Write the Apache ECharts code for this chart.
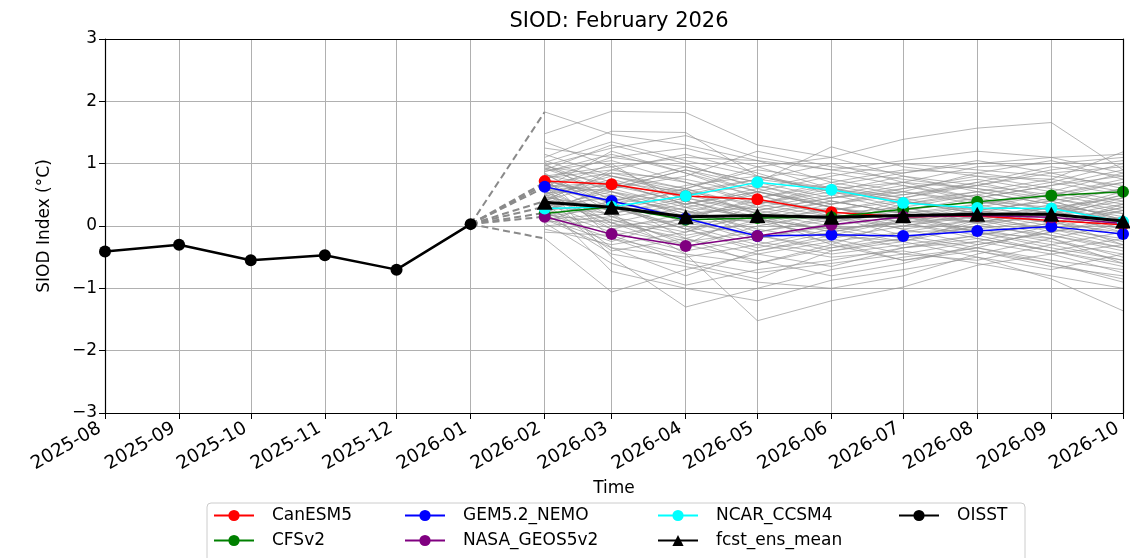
<!DOCTYPE html>
<html>
<head>
<meta charset="utf-8">
<title>SIOD: February 2026</title>
<script src="https://cdn.jsdelivr.net/npm/echarts@6/dist/echarts.min.js"></script>
<style>
    html, body {margin: 0; padding: 0; background: #fff;}
    #main {width: 1130px; height: 558px;}
</style>
</head>
<body>
<div id="main"></div>
<script>
// month ticks on the time axis
const TICK_MONTHS = ['2025-08', '2025-09', '2025-10', '2025-11', '2025-12', '2026-01', '2026-02',
    '2026-03', '2026-04', '2026-05', '2026-06', '2026-07', '2026-08', '2026-09', '2026-10'];
const OBS_MONTHS = ['2025-08', '2025-09', '2025-10', '2025-11', '2025-12', '2026-01'];
const FCST_MONTHS = ['2026-02', '2026-03', '2026-04', '2026-05', '2026-06', '2026-07', '2026-08', '2026-09', '2026-10'];
const Y_TICKS = [-3, -2, -1, 0, 1, 2, 3];

// observed index
const OISST = [-0.41, -0.30, -0.55, -0.47, -0.70, 0.03];

// model means
const CANESM5 = [0.72, 0.67, 0.48, 0.43, 0.22, 0.15, 0.16, 0.09, 0.02];
const CFSV2 = [0.20, 0.31, 0.10, 0.13, 0.14, 0.27, 0.39, 0.49, 0.55];
const GEM52_NEMO = [0.63, 0.40, 0.12, -0.16, -0.14, -0.16, -0.08, -0.01, -0.13];
const NASA_GEOS5V2 = [0.15, -0.13, -0.32, -0.16, 0.02, 0.15, 0.17, 0.14, 0.04];
const NCAR_CCSM4 = [0.28, 0.31, 0.48, 0.70, 0.58, 0.37, 0.29, 0.28, 0.07];
const ENS_MEAN = [0.38, 0.30, 0.15, 0.17, 0.14, 0.17, 0.19, 0.19, 0.08];

// dashed links from last observation to first forecast month
const LINK_ENDS = [1.83, 0.70, 0.66, 0.62, 0.40, 0.31, 0.21, 0.15, -0.20];

// ensemble members, Feb..Oct 2026
const MEMBERS = [
    [1.83, 1.47, 1.30, 1.05, 0.90, 1.05, 1.20, 1.10, 0.85],
    [1.48, 1.84, 1.82, 1.30, 1.10, 1.39, 1.57, 1.66, 0.90],
    [1.25, 1.10, 0.95, 0.70, 1.27, 0.95, 0.80, 0.75, 1.19],
    [1.10, 1.52, 1.50, 0.80, 0.60, 0.70, 0.95, 1.00, 1.10],
    [1.00, 0.40, -0.20, -0.60, -0.30, 0.10, 0.35, 0.50, 0.70],
    [0.95, 0.80, 0.60, 0.90, 0.75, 0.55, 0.40, 0.30, 0.20],
    [0.90, 1.30, 1.00, 0.60, 0.30, 0.10, -0.10, -0.30, -0.55],
    [0.85, 0.20, -0.45, -1.52, -1.20, -0.98, -0.63, -0.45, -0.30],
    [0.82, 0.60, 0.80, 1.20, 0.95, 0.85, 1.00, 1.10, 1.15],
    [0.80, 0.95, 0.40, 0.10, 0.35, 0.60, 0.75, 0.55, 0.35],
    [0.78, -0.20, -0.60, -0.85, -0.40, -0.20, 0.00, -0.15, -0.40],
    [0.75, 1.10, 1.25, 0.95, 0.60, 0.35, 0.50, 0.70, 1.00],
    [0.72, 0.50, 0.20, 0.30, 0.50, 0.70, 0.60, 0.40, 0.10],
    [0.70, 0.30, 0.00, -0.30, -0.50, -0.40, -0.60, -0.80, -1.00],
    [0.68, 0.85, 0.75, 0.50, 0.20, 0.00, 0.15, 0.30, 0.45],
    [0.65, -0.50, -1.30, -1.00, -0.70, -0.50, -0.35, -0.55, -0.70],
    [0.63, 0.70, 0.55, 0.35, 0.15, 0.25, 0.45, 0.65, 0.80],
    [0.60, 0.40, 0.65, 0.80, 0.55, 0.30, 0.10, -0.05, -0.20],
    [0.58, 1.00, 0.30, -0.10, 0.10, 0.40, 0.20, 0.00, -0.25],
    [0.55, 0.15, -0.30, -0.55, -0.80, -0.60, -0.30, -0.10, 0.10],
    [0.53, 0.60, 0.90, 0.55, 0.30, 0.05, -0.20, -0.40, -0.60],
    [0.50, 0.00, 0.10, 0.45, 0.70, 0.90, 0.85, 0.70, 0.50],
    [0.48, 0.75, 0.45, 0.20, 0.00, -0.20, -0.40, -0.60, -0.85],
    [0.45, -0.35, -0.80, -0.40, -0.15, 0.10, 0.25, 0.15, -0.05],
    [0.43, 0.25, 0.50, 0.65, 0.40, 0.20, 0.30, 0.50, 0.75],
    [0.40, 0.90, 0.70, 0.40, 0.25, 0.45, 0.65, 0.90, 1.05],
    [0.38, 0.10, -0.15, 0.05, 0.30, 0.15, -0.05, -0.25, -0.45],
    [0.35, -0.73, -1.00, -1.20, -0.87, -0.70, -0.50, -0.85, -1.36],
    [0.33, 0.45, 0.25, -0.05, -0.25, -0.10, 0.10, 0.35, 0.60],
    [0.30, 0.55, 0.35, 0.60, 0.85, 0.65, 0.45, 0.25, 0.00],
    [0.28, -0.10, -0.40, -0.20, 0.05, 0.25, 0.40, 0.20, -0.10],
    [0.25, 0.35, 0.10, -0.25, -0.45, -0.30, -0.15, 0.05, 0.30],
    [0.22, 0.65, 0.95, 0.70, 0.45, 0.60, 0.80, 0.60, 0.40],
    [0.20, -0.45, -0.65, -0.90, -1.00, -0.80, -0.45, -0.20, -0.50],
    [0.18, 0.05, 0.30, 0.15, -0.10, -0.35, -0.25, -0.45, -0.75],
    [0.15, 0.30, -0.05, -0.40, -0.20, 0.00, 0.20, 0.45, 0.20],
    [0.12, -0.25, 0.15, 0.40, 0.20, -0.05, -0.30, -0.10, 0.15],
    [0.10, 0.20, 0.45, 0.25, 0.05, 0.35, 0.55, 0.35, 0.00],
    [0.05, -0.60, -0.95, -0.70, -0.55, -0.35, -0.20, -0.40, -0.20],
    [0.00, 0.10, -0.25, -0.10, 0.15, -0.15, -0.35, -0.60, -0.90],
    [-0.05, -0.30, -0.10, 0.20, 0.40, 0.20, 0.05, 0.25, 0.55],
    [-0.10, -0.15, -0.55, -0.75, -0.60, -0.45, -0.55, -0.30, -0.10],
    [-0.20, -1.06, -0.70, -0.45, -0.25, -0.55, -0.40, -0.65, -0.80],
    [0.92, 0.55, 0.15, -0.20, 0.00, 0.15, 0.05, 0.15, 0.35],
    [0.87, 1.15, 0.85, 0.55, 0.80, 1.00, 0.90, 0.80, 0.65],
    [1.35, 0.95, 1.10, 1.05, 0.70, 0.50, 0.65, 0.85, 0.95],
    [0.74, 0.45, 0.05, 0.10, -0.05, 0.05, 0.15, -0.05, -0.30],
    [0.62, 0.05, -0.35, 0.00, 0.20, 0.30, 0.05, -0.20, -0.60],
    [0.57, 0.65, 0.40, 0.15, -0.30, -0.55, -0.35, -0.05, 0.25],
    [0.47, 0.25, 0.60, 0.95, 1.10, 0.80, 0.55, 0.35, 0.15],
    [0.37, -0.05, -0.30, 0.25, 0.45, 0.55, 0.35, 0.10, -0.15],
    [0.27, 0.50, 0.20, 0.05, -0.15, -0.25, 0.00, 0.20, 0.40],
    [0.17, -0.20, -0.45, -0.60, -0.35, -0.10, -0.05, 0.10, -0.30],
    [0.08, 0.40, 0.60, 0.30, 0.10, 0.20, 0.35, 0.55, 0.85],
    [1.05, 0.70, 0.35, 0.55, 0.30, 0.10, 0.25, 0.40, 0.10],
    [0.97, 1.25, 1.45, 1.10, 0.90, 0.75, 0.60, 0.45, 0.70],
    [0.93, 0.65, 0.50, 0.75, 0.60, 0.45, 0.70, 0.95, 0.80],
    [0.88, 1.05, 0.70, 0.35, 0.55, 0.80, 0.65, 0.50, 0.30],
    [0.83, 0.35, 0.55, 0.20, -0.10, 0.10, 0.30, 0.15, 0.45],
    [0.77, 0.90, 1.15, 0.85, 0.50, 0.25, 0.05, 0.25, 0.50],
    [0.71, 0.15, -0.10, 0.35, 0.65, 0.45, 0.20, -0.10, -0.35],
    [0.66, 0.55, 0.25, -0.15, -0.35, -0.20, 0.05, 0.30, 0.05],
    [0.61, 1.20, 0.85, 0.45, 0.65, 0.85, 1.05, 0.85, 0.60],
    [0.56, -0.05, 0.20, 0.55, 0.35, 0.50, 0.70, 0.45, 0.25],
    [0.51, 0.80, 0.55, 0.75, 1.00, 0.70, 0.45, 0.65, 0.90],
    [0.46, 0.30, -0.05, -0.35, -0.10, 0.15, -0.10, -0.35, -0.55],
    [0.41, 0.70, 0.35, 0.10, -0.20, -0.45, -0.25, 0.00, 0.35],
    [0.36, -0.40, -0.20, 0.10, -0.05, -0.25, -0.50, -0.70, -0.45],
    [0.31, 0.20, 0.40, 0.10, 0.25, 0.40, 0.20, 0.05, 0.25],
    [0.26, 0.60, 0.30, 0.50, 0.15, -0.05, 0.10, -0.15, -0.35],
    [0.21, -0.15, 0.05, -0.15, -0.40, -0.25, 0.10, 0.30, 0.10],
    [0.16, 0.40, 0.15, 0.35, 0.60, 0.40, 0.25, 0.05, -0.10],
    [0.11, -0.35, -0.50, -0.30, -0.05, 0.05, -0.15, 0.05, 0.30],
    [0.06, 0.15, 0.35, 0.55, 0.30, 0.05, 0.25, 0.40, 0.60],
    [1.15, 0.80, 0.50, 0.25, 0.45, 0.65, 0.40, 0.20, 0.50],
    [1.02, 1.35, 1.05, 0.80, 0.55, 0.40, 0.55, 0.75, 0.55],
    [0.98, 0.60, 0.90, 0.65, 0.35, 0.55, 0.85, 1.05, 0.75],
    [0.76, 0.35, -0.05, 0.15, 0.40, 0.20, -0.10, -0.20, 0.05],
    [0.52, 0.05, -0.20, -0.45, -0.65, -0.35, -0.15, -0.40, -0.65],
    [0.42, 0.85, 0.60, 0.20, 0.10, 0.30, 0.50, 0.25, -0.05]
];

const FONT = 'DejaVu Sans';

const toTime = (ym) => {
    const [y, m] = ym.split('-').map(Number);
    return Date.UTC(y, m - 1, 1);
};
const fmtMonth = (t) => {
    const d = new Date(t);
    return d.getUTCFullYear() + '-' + String(d.getUTCMonth() + 1).padStart(2, '0');
};
const pairs = (months, vals) => months.map((m, i) => [toTime(m), vals[i]]);

const tickTimes = TICK_MONTHS.map(toTime);

const series = [];

MEMBERS.forEach((m, i) => {
    series.push({
        name: 'member' + i,
        type: 'line',
        data: pairs(FCST_MONTHS, m),
        symbol: 'none',
        silent: true,
        z: 1,
        lineStyle: {color: '#939393', width: 0.8, opacity: 0.85}
    });
});

LINK_ENDS.forEach((v, i) => {
    series.push({
        name: 'link' + i,
        type: 'line',
        data: [[toTime('2026-01'), OISST[OISST.length - 1]], [toTime('2026-02'), v]],
        symbol: 'none',
        silent: true,
        z: 2,
        lineStyle: {color: '#8a8a8a', width: 2, type: [7, 4]}
    });
});

const model = (name, vals, color) => ({
    name: name,
    type: 'line',
    data: pairs(FCST_MONTHS, vals),
    symbol: 'circle',
    symbolSize: 12,
    z: 3,
    itemStyle: {color: color},
    lineStyle: {color: color, width: 1.5}
});

series.push(model('CanESM5', CANESM5, '#ff0000'));
series.push(model('CFSv2', CFSV2, '#008000'));
series.push(model('GEM5.2_NEMO', GEM52_NEMO, '#0000ff'));
series.push(model('NASA_GEOS5v2', NASA_GEOS5V2, '#800080'));
series.push(model('NCAR_CCSM4', NCAR_CCSM4, '#00ffff'));
series.push({
    name: 'fcst_ens_mean',
    type: 'line',
    data: pairs(FCST_MONTHS, ENS_MEAN),
    symbol: 'triangle',
    symbolSize: [16, 15],
    z: 4,
    itemStyle: {color: '#000'},
    lineStyle: {color: '#000', width: 3}
});
series.push({
    name: 'OISST',
    type: 'line',
    data: pairs(OBS_MONTHS, OISST),
    symbol: 'circle',
    symbolSize: 12,
    z: 4,
    itemStyle: {color: '#000'},
    lineStyle: {color: '#000', width: 2.5}
});

// one legend per entry so the 4x2 column-major layout sits where matplotlib put it
const legendItem = (name, left, top) => ({
    left: left,
    top: top,
    padding: 0,
    itemWidth: 40,
    itemHeight: 14,
    selectedMode: false,
    textStyle: {fontFamily: FONT, fontSize: 17, color: '#000', padding: [0, 0, 0, 13]},
    data: [name]
});

// plain frame axes for the top and right spines
const frameLine = {show: true, onZero: false, lineStyle: {color: '#000', width: 1.2}};

const chartDom = document.getElementById('main');
const myChart = echarts.init(chartDom);
let option;

option = {
    animation: false,
    backgroundColor: '#fff',
    title: {
        text: 'SIOD: February 2026',
        left: 614,
        top: 6,
        textAlign: 'center',
        textStyle: {fontFamily: FONT, fontSize: 21, fontWeight: 'normal', color: '#000'}
    },
    grid: {
        left: 105,
        right: 7,
        top: 39,
        bottom: 145
    },
    graphic: [{
        type: 'rect',
        z: 0,
        shape: {x: 207, y: 503, width: 818, height: 80, r: 4},
        style: {fill: '#fff', stroke: '#cccccc', lineWidth: 1}
    }],
    legend: [
        legendItem('CanESM5', 213, 507),
        legendItem('CFSv2', 213, 532),
        legendItem('GEM5.2_NEMO', 404, 507),
        legendItem('NASA_GEOS5v2', 404, 532),
        legendItem('NCAR_CCSM4', 657, 507),
        legendItem('fcst_ens_mean', 657, 532),
        legendItem('OISST', 898, 507)
    ],
    xAxis: [{
        type: 'value',
        min: tickTimes[0],
        max: tickTimes[tickTimes.length - 1],
        name: 'Time',
        nameLocation: 'middle',
        nameGap: 66,
        nameTextStyle: {fontFamily: FONT, fontSize: 17, color: '#000'},
        axisLine: {onZero: false, lineStyle: {color: '#000', width: 1.2}},
        axisTick: {show: true, length: 6, inside: false, customValues: tickTimes, lineStyle: {color: '#000'}},
        axisLabel: {
            customValues: tickTimes,
            rotate: 30,
            margin: 11,
            padding: [0, 6, 0, 0],
            fontFamily: FONT,
            fontSize: 18.5,
            color: '#000',
            formatter: fmtMonth
        },
        splitLine: {show: true, showMinLine: false, showMaxLine: false, lineStyle: {color: '#b0b0b0', width: 1}}
    }, {
        type: 'value',
        position: 'top',
        min: tickTimes[0],
        max: tickTimes[tickTimes.length - 1],
        z: 5,
        axisLine: frameLine,
        axisTick: {show: false},
        axisLabel: {show: false},
        splitLine: {show: false}
    }],
    yAxis: [{
        type: 'value',
        min: -3,
        max: 3,
        interval: 1,
        name: 'SIOD Index (°C)',
        nameLocation: 'middle',
        nameGap: 52,
        nameTextStyle: {fontFamily: FONT, fontSize: 17, color: '#000'},
        axisLine: {show: true, onZero: false, lineStyle: {color: '#000', width: 1.2}},
        axisTick: {show: true, length: 6, inside: false, lineStyle: {color: '#000'}},
        axisLabel: {
            margin: 8,
            fontFamily: FONT,
            fontSize: 17,
            color: '#000',
            formatter: (v) => Y_TICKS.includes(v) && v < 0 ? '\u2212' + Math.abs(v) : String(v)
        },
        splitLine: {show: true, showMinLine: false, showMaxLine: false, lineStyle: {color: '#b0b0b0', width: 1}}
    }, {
        type: 'value',
        position: 'right',
        min: -3,
        max: 3,
        interval: 1,
        z: 5,
        axisLine: frameLine,
        axisTick: {show: false},
        axisLabel: {show: false},
        splitLine: {show: false}
    }],
    series: series
};

option && myChart.setOption(option);
</script>
</body>
</html>
